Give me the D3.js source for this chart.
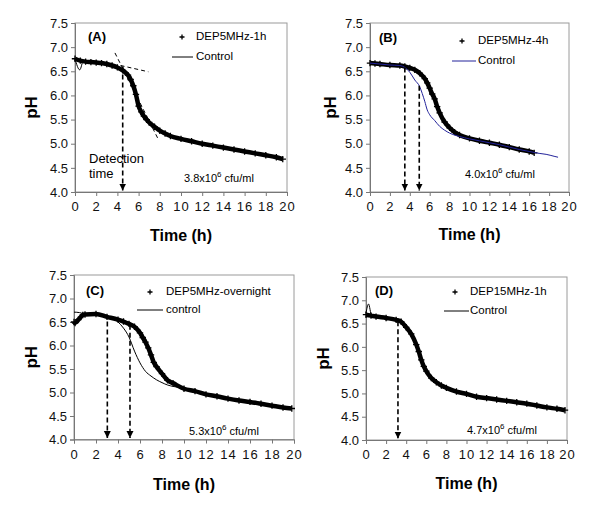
<!DOCTYPE html>
<html><head><meta charset="utf-8">
<script src="https://cdn.jsdelivr.net/npm/d3@7"></script>
<style>
body{margin:0;background:#fff;}
svg{display:block;font-family:"Liberation Sans",Arial,sans-serif;}
</style></head>
<body><svg id="c" width="600" height="517"></svg>
<script>
// ---------- data ----------
const xTicks = [0,2,4,6,8,10,12,14,16,18,20];
const yTicks = [4.0,4.5,5.0,5.5,6.0,6.5,7.0,7.5];

const panelLabels = ["(A)","(B)","(C)","(D)"];
const depNames = ["DEP5MHz-1h","DEP5MHz-4h","DEP5MHz-overnight","DEP15MHz-1h"];
const controlNames = ["Control","Control","control","Control"];
const cfuMantissa = ["3.8","4.0","5.3","4.7"];

const tDepA  = [0,0.5,1,1.5,2,2.5,3,3.5,4,4.5,5,5.25,5.5,5.75,6,6.25,6.5,6.75,7,7.5,8,8.5,9,10,11,12,13,14,15,16,17,18,19,19.6];
const phDepA = [6.76,6.72,6.70,6.69,6.68,6.67,6.65,6.62,6.58,6.52,6.42,6.33,6.20,6.02,5.78,5.66,5.57,5.50,5.44,5.35,5.27,5.21,5.16,5.10,5.05,5.00,4.96,4.92,4.88,4.84,4.80,4.76,4.72,4.68];
const tCtlA  = [0,0.45,0.8,1,2,3,4,5,6,7,8,9,10,12,14,16,18,19.6];
const phCtlA = [6.76,6.53,6.72,6.70,6.68,6.65,6.58,6.42,5.78,5.44,5.27,5.16,5.10,5.00,4.92,4.84,4.76,4.68];

const tDepB  = [0,0.5,1,2,3,3.5,4,4.5,5,5.5,5.75,6,6.25,6.5,6.75,7,7.5,8,8.5,9,10,11,12,13,14,15,16,16.5];
const phDepB = [6.67,6.66,6.65,6.63,6.62,6.60,6.57,6.53,6.46,6.35,6.26,6.15,6.03,5.93,5.77,5.64,5.45,5.33,5.24,5.18,5.11,5.06,5.02,4.98,4.93,4.88,4.84,4.81];
const tCtlB  = [0,1,2,3,3.5,4,4.5,5,5.25,5.5,5.75,6,6.5,7,7.5,8,9,10,11,12,13,14,15,16,16.5,17,17.7,18.5,18.9];
const phCtlB = [6.67,6.65,6.63,6.62,6.58,6.48,6.32,6.18,6.04,5.88,5.70,5.60,5.48,5.36,5.28,5.22,5.15,5.10,5.06,5.02,4.98,4.93,4.88,4.84,4.82,4.80,4.78,4.74,4.72];

const tDepC  = [0,0.1,0.4,0.8,1,2,3,4,4.5,5,5.5,6,6.25,6.5,6.75,7,7.25,7.5,8,8.5,9,10,11,12,13,14,15,16,17,18,19,19.8];
const phDepC = [6.50,6.48,6.55,6.65,6.66,6.67,6.61,6.55,6.51,6.46,6.40,6.27,6.17,6.07,5.95,5.80,5.64,5.55,5.40,5.26,5.20,5.08,5.03,4.96,4.92,4.87,4.83,4.80,4.76,4.72,4.68,4.66];
const tCtlC  = [0,0.5,1,2,3,3.5,4,4.5,5,5.5,6,6.5,7,7.5,8,8.5,9,9.5,10,12,14,16,18,19.8];
const phCtlC = [6.71,6.70,6.67,6.66,6.61,6.58,6.50,6.37,6.18,5.88,5.63,5.45,5.35,5.27,5.21,5.16,5.13,5.11,5.08,4.96,4.86,4.80,4.72,4.66];

const tDepD  = [0,0.5,1,2,3,3.5,4,4.5,5,5.25,5.5,5.75,6,6.5,7,7.5,8,9,10,11,12,13,14,15,16,17,18,19,19.8];
const phDepD = [6.69,6.67,6.65,6.62,6.58,6.54,6.42,6.28,6.05,5.90,5.72,5.58,5.48,5.33,5.24,5.17,5.12,5.04,4.99,4.93,4.90,4.87,4.84,4.81,4.78,4.74,4.70,4.67,4.64];
const tCtlD  = [0,0.25,0.55,1,2,3,4,5,6,7,8,10,12,14,16,18,19.8];
const phCtlD = [6.72,6.92,6.68,6.65,6.62,6.58,6.42,6.05,5.48,5.24,5.12,4.99,4.90,4.84,4.78,4.70,4.64];

// detection arrows: time and pH where the arrow starts
const arrowTA = [4.5],        arrowPhA = [6.6];
const arrowTB = [3.5,4.95],   arrowPhB = [6.58,6.2];
const arrowTC = [3.03,5.09],  arrowPhC = [6.51,6.44];
const arrowTD = [3.18],       arrowPhD = [6.55];
// tangent lines in panel A  [t0,pH0,t1,pH1]
const tangentSteep = [3.77,6.88,7.86,5.09];
const tangentFlat  = [4.3,6.62,6.92,6.49];

// ---------- layout ----------
const layouts = [
  {l:75,r:287,t:23,b:192, lab:[88,38], leg:{px:182,py:37,tx:196,ly:57,lx0:172,lx1:193}, cfu:[184,178], pHx:33, timeY:237, ctl:"#000"},
  {l:370,r:569,t:23,b:192, lab:[379,39], leg:{px:462,py:41,tx:478,ly:61,lx0:452,lx1:476}, cfu:[465,174], pHx:332, timeY:236, ctl:"#22229a"},
  {l:74,r:294,t:275,b:439.5, lab:[86,292], leg:{px:150,py:292,tx:166,ly:310,lx0:137,lx1:163}, cfu:[189,431], pHx:33, timeY:486, ctl:"#000"},
  {l:366,r:567,t:277,b:440, lab:[375,292], leg:{px:455,py:292,tx:470,ly:311,lx0:444,lx1:469}, cfu:[467,430], pHx:325, timeY:485, ctl:"#000"}
];
const series = [
  {tD:tDepA,pD:phDepA,tC:tCtlA,pC:phCtlA,aT:arrowTA,aP:arrowPhA},
  {tD:tDepB,pD:phDepB,tC:tCtlB,pC:phCtlB,aT:arrowTB,aP:arrowPhB},
  {tD:tDepC,pD:phDepC,tC:tCtlC,pC:phCtlC,aT:arrowTC,aP:arrowPhC},
  {tD:tDepD,pD:phDepD,tC:tCtlD,pC:phCtlD,aT:arrowTD,aP:arrowPhD}
];

const svg = d3.select("#c");
const defs = svg.append("defs");
defs.append("marker").attr("id","ah").attr("viewBox","0 0 10 10").attr("refX",10).attr("refY",5)
  .attr("markerWidth",7).attr("markerHeight",8).attr("markerUnits","userSpaceOnUse").attr("orient","auto")
  .append("path").attr("d","M0,0L10,5L0,10Z").attr("fill","#000");

function plusPath(s){ return `M${-s},0H${s}M0,${-s}V${s}`; }

layouts.forEach((L,i)=>{
  const S = series[i];
  const x = d3.scaleLinear().domain([0,20]).range([L.l,L.r]);
  const y = d3.scaleLinear().domain([4,7.5]).range([L.b,L.t]);
  const g = svg.append("g");

  // frame
  g.append("rect").attr("x",L.l).attr("y",L.t).attr("width",L.r-L.l).attr("height",L.b-L.t)
    .attr("fill","none").attr("stroke","#9a9a9a").attr("stroke-width",1);

  // axes
  const yAx = g.append("g").attr("transform",`translate(${L.l},0)`)
    .call(d3.axisLeft(y).tickValues(yTicks).tickFormat(d3.format(".1f")).tickSize(4).tickPadding(3));
  const xAx = g.append("g").attr("transform",`translate(0,${L.b})`)
    .call(d3.axisBottom(x).tickValues(xTicks).tickFormat(d3.format("d")).tickSize(4).tickPadding(6));
  [yAx,xAx].forEach(a=>{
    a.select(".domain").attr("stroke","#777");
    a.selectAll(".tick line").attr("stroke","#777");
    a.selectAll("text").attr("font-family","Liberation Sans, Arial, sans-serif").attr("font-size",13).attr("fill","#111");
  });
  xAx.selectAll("text").attr("letter-spacing",1);

  // axis titles
  g.append("text").attr("x",(L.l+L.r)/2).attr("y",L.timeY).attr("text-anchor","middle")
    .attr("dominant-baseline","middle").attr("font-weight","bold").attr("font-size",16).text("Time (h)");
  g.append("text").attr("transform",`translate(${L.pHx},${(L.t+L.b)/2}) rotate(-90)`).attr("text-anchor","middle")
    .attr("dominant-baseline","middle").attr("font-weight","bold").attr("font-size",17).text("pH");

  const dep = S.tD.map((t,k)=>[t,S.pD[k]]);
  const ctl = S.tC.map((t,k)=>[t,S.pC[k]]);
  const line = d3.line().x(d=>x(d[0])).y(d=>y(d[1])).curve(d3.curveMonotoneX);

  // DEP series: thick band of + markers
  g.append("path").attr("d",line(dep)).attr("fill","none").attr("stroke","#000").attr("stroke-width",4.5);
  g.selectAll(".pm").data(dep).enter().append("path")
    .attr("transform",d=>`translate(${x(d[0])},${y(d[1])})`).attr("d",plusPath(3.2))
    .attr("stroke","#000").attr("stroke-width",1.3);

  // control series
  g.append("path").attr("d",line(ctl)).attr("fill","none").attr("stroke",L.ctl).attr("stroke-width",1);

  // tangent lines (panel A)
  if(i===0){
    [tangentSteep,tangentFlat].forEach(tl=>{
      g.append("line").attr("x1",x(tl[0])).attr("y1",y(tl[1])).attr("x2",x(tl[2])).attr("y2",y(tl[3]))
        .attr("stroke","#000").attr("stroke-width",1).attr("stroke-dasharray","4,3");
    });
    g.append("text").attr("x",89).attr("y",160).attr("dominant-baseline","middle").attr("font-size",13).text("Detection");
    g.append("text").attr("x",89).attr("y",175).attr("dominant-baseline","middle").attr("font-size",13).text("time");
  }

  // detection arrows
  S.aT.forEach((t,k)=>{
    g.append("line").attr("x1",x(t)).attr("y1",y(S.aP[k])).attr("x2",x(t)).attr("y2",y(4.03))
      .attr("stroke","#000").attr("stroke-width",1.6).attr("stroke-dasharray","5,3")
      .attr("marker-end","url(#ah)");
  });

  // panel label
  g.append("text").attr("x",L.lab[0]).attr("y",L.lab[1]).attr("dominant-baseline","middle")
    .attr("font-weight","bold").attr("font-size",13).text(panelLabels[i]);

  // legend
  g.append("path").attr("transform",`translate(${L.leg.px},${L.leg.py})`).attr("d",plusPath(2.5))
    .attr("stroke","#000").attr("stroke-width",1.3);
  g.append("text").attr("x",L.leg.tx).attr("y",L.leg.py).attr("dominant-baseline","middle").attr("font-size",11.5).text(depNames[i]);
  g.append("line").attr("x1",L.leg.lx0).attr("x2",L.leg.lx1).attr("y1",L.leg.ly).attr("y2",L.leg.ly)
    .attr("stroke",L.ctl).attr("stroke-width",1);
  g.append("text").attr("x",L.leg.tx).attr("y",L.leg.ly).attr("dominant-baseline","middle").attr("font-size",11.5).text(controlNames[i]);

  // cfu annotation
  const ct = g.append("text").attr("x",L.cfu[0]).attr("y",L.cfu[1]+4).attr("font-size",11);
  ct.append("tspan").text(cfuMantissa[i]+"x10");
  ct.append("tspan").attr("dy",-5).attr("font-size",8).text("6");
  ct.append("tspan").attr("dy",5).text(" cfu/ml");
});
</script></body></html>
